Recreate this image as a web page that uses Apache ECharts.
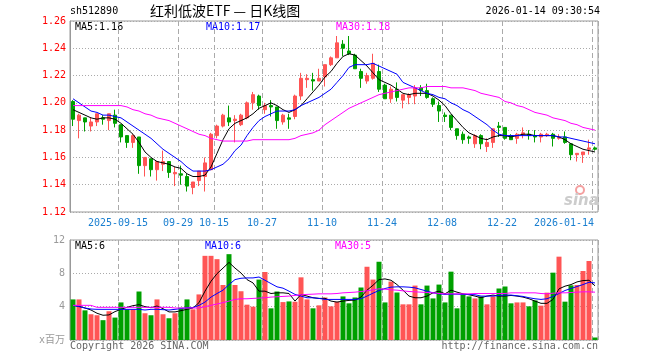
<!DOCTYPE html>
<html><head><meta charset="utf-8">
<script src="https://cdn.jsdelivr.net/npm/echarts@6/dist/echarts.min.js"></script>
<style>html,body{margin:0;padding:0;background:#fff}#c{width:660px;height:360px}</style>
</head><body><div id="c"></div>
<script>
const dates = ['2025-09-03','2025-09-04','2025-09-05','2025-09-08','2025-09-09','2025-09-10','2025-09-11','2025-09-12',
'2025-09-15','2025-09-16','2025-09-17','2025-09-18','2025-09-19','2025-09-22','2025-09-23','2025-09-24','2025-09-25','2025-09-26',
'2025-09-29','2025-09-30','2025-10-09','2025-10-10','2025-10-13','2025-10-14','2025-10-15',
'2025-10-16','2025-10-17','2025-10-20','2025-10-21','2025-10-22','2025-10-23','2025-10-24','2025-10-27',
'2025-10-28','2025-10-29','2025-10-30','2025-10-31','2025-11-03','2025-11-04','2025-11-05','2025-11-06','2025-11-07','2025-11-10',
'2025-11-11','2025-11-12','2025-11-13','2025-11-14','2025-11-17','2025-11-18','2025-11-19','2025-11-20','2025-11-21','2025-11-24',
'2025-11-25','2025-11-26','2025-11-27','2025-11-28','2025-12-01','2025-12-02','2025-12-03','2025-12-04','2025-12-05','2025-12-08',
'2025-12-09','2025-12-10','2025-12-11','2025-12-12','2025-12-15','2025-12-16','2025-12-17','2025-12-18','2025-12-19','2025-12-22',
'2025-12-23','2025-12-24','2025-12-25','2025-12-26','2025-12-29','2025-12-30','2025-12-31',
'2026-01-05','2026-01-06','2026-01-07','2026-01-08','2026-01-09','2026-01-12','2026-01-13','2026-01-14'];

const opens = [1.201,1.187,1.189,1.183,1.186,1.189,1.187,1.191,1.184,1.176,1.171,1.175,1.154,1.159,1.151,1.155,1.157,1.148,1.148,1.146,
1.138,1.143,1.146,1.151,1.176,1.183,1.189,1.187,1.184,1.189,1.200,1.205,1.195,1.198,1.197,1.186,1.189,1.190,1.205,1.217,
1.217,1.216,1.219,1.228,1.233,1.243,1.238,1.235,1.223,1.216,1.218,1.223,1.213,1.203,1.210,1.202,1.204,1.205,1.211,1.209,
1.203,1.198,1.191,1.191,1.181,1.177,1.175,1.170,1.176,1.168,1.171,1.183,1.182,1.176,1.174,1.177,1.177,1.176,1.175,1.176,
1.177,1.174,1.175,1.170,1.162,1.162,1.166,1.167];
const closes = [1.188,1.191,1.186,1.186,1.192,1.188,1.192,1.185,1.175,1.171,1.176,1.154,1.160,1.151,1.157,1.157,1.149,1.149,1.147,1.139,
1.142,1.150,1.156,1.177,1.183,1.191,1.186,1.188,1.191,1.200,1.206,1.198,1.198,1.197,1.187,1.191,1.188,1.205,1.218,1.218,
1.216,1.218,1.228,1.233,1.244,1.240,1.236,1.225,1.218,1.220,1.229,1.210,1.203,1.210,1.204,1.206,1.206,1.211,1.209,1.204,
1.199,1.194,1.190,1.182,1.176,1.173,1.174,1.176,1.170,1.171,1.181,1.182,1.174,1.173,1.177,1.178,1.176,1.175,1.177,1.177,
1.174,1.175,1.171,1.162,1.163,1.164,1.167,1.166];
const lows = [1.183,1.174,1.179,1.179,1.183,1.184,1.180,1.182,1.171,1.167,1.167,1.148,1.146,1.146,1.143,1.150,1.145,1.139,1.140,1.135,
1.133,1.139,1.135,1.151,1.174,1.182,1.183,1.171,1.183,1.188,1.195,1.195,1.192,1.190,1.181,1.184,1.181,1.188,1.202,1.211,
1.209,1.216,1.212,1.227,1.233,1.234,1.235,1.225,1.211,1.214,1.217,1.208,1.203,1.200,1.201,1.196,1.199,1.199,1.205,1.203,
1.197,1.186,1.186,1.180,1.173,1.170,1.170,1.167,1.166,1.164,1.167,1.175,1.173,1.173,1.170,1.174,1.173,1.171,1.171,1.175,
1.168,1.173,1.170,1.158,1.157,1.156,1.162,1.165];
const highs = [1.202,1.192,1.189,1.189,1.192,1.191,1.192,1.195,1.184,1.176,1.177,1.175,1.160,1.159,1.157,1.165,1.157,1.153,1.154,1.148,
1.142,1.150,1.160,1.178,1.184,1.192,1.198,1.191,1.192,1.201,1.208,1.206,1.200,1.202,1.197,1.192,1.192,1.206,1.222,1.221,
1.222,1.225,1.228,1.234,1.249,1.246,1.249,1.236,1.225,1.222,1.236,1.228,1.214,1.212,1.215,1.206,1.207,1.213,1.213,1.214,
1.204,1.201,1.193,1.191,1.181,1.179,1.176,1.177,1.177,1.174,1.181,1.186,1.182,1.177,1.178,1.182,1.180,1.180,1.178,1.178,
1.178,1.177,1.179,1.170,1.163,1.164,1.173,1.168];

const ma5 = [1.195,1.193,1.191,1.189,1.188,1.189,1.189,1.188,1.185,1.181,1.177,1.171,1.164,1.160,1.157,1.156,1.155,1.153,1.152,1.148,
1.146,1.146,1.147,1.153,1.163,1.173,1.181,1.185,1.187,1.189,1.192,1.196,1.198,1.200,1.198,1.195,1.193,1.195,1.198,1.203,
1.208,1.213,1.219,1.223,1.229,1.234,1.236,1.235,1.231,1.227,1.222,1.217,1.215,1.213,1.210,1.207,1.206,1.207,1.207,1.207,
1.205,1.202,1.198,1.192,1.187,1.182,1.178,1.176,1.174,1.173,1.175,1.176,1.176,1.175,1.176,1.177,1.177,1.176,1.176,1.176,
1.176,1.175,1.173,1.170,1.168,1.166,1.165,1.164];
const ma10 = [1.203,1.200,1.197,1.194,1.193,1.191,1.191,1.190,1.189,1.186,1.183,1.180,1.177,1.174,1.170,1.166,1.163,1.160,1.157,1.153,
1.150,1.150,1.150,1.151,1.153,1.155,1.159,1.165,1.169,1.176,1.182,1.187,1.190,1.192,1.194,1.194,1.194,1.195,1.198,1.200,
1.202,1.204,1.207,1.210,1.215,1.220,1.226,1.228,1.228,1.228,1.229,1.227,1.225,1.223,1.221,1.215,1.213,1.211,1.209,1.207,
1.206,1.204,1.203,1.200,1.198,1.195,1.193,1.190,1.187,1.184,1.180,1.177,1.176,1.176,1.176,1.176,1.176,1.176,1.176,1.176,
1.176,1.175,1.175,1.174,1.173,1.172,1.171,1.170];
const ma30 = [1.198,1.198,1.198,1.198,1.198,1.198,1.198,1.198,1.198,1.197,1.195,1.194,1.192,1.191,1.189,1.188,1.187,1.185,1.183,1.181,
1.179,1.177,1.176,1.174,1.173,1.172,1.172,1.172,1.172,1.172,1.173,1.173,1.173,1.173,1.173,1.173,1.173,1.174,1.176,1.177,
1.178,1.180,1.184,1.187,1.190,1.193,1.196,1.198,1.200,1.202,1.204,1.206,1.207,1.208,1.209,1.210,1.211,1.211,1.211,1.212,
1.212,1.212,1.212,1.211,1.211,1.211,1.210,1.209,1.207,1.206,1.205,1.204,1.201,1.200,1.198,1.197,1.195,1.193,1.192,1.191,
1.189,1.188,1.187,1.185,1.184,1.182,1.181,1.180];

const volumes = [4.87,4.87,3.56,3.09,2.97,2.38,3.45,2.69,4.51,3.68,3.68,5.82,3.21,2.97,4.87,3.09,2.61,3.21,3.88,4.87,
3.68,5.47,10.1,10.1,9.7,6.6,10.3,6.6,5.85,4.24,4.0,7.25,8.16,3.80,5.82,4.55,4.63,4.59,7.52,4.87,
3.80,4.16,5.1,4.04,4.59,5.23,4.40,5.1,6.30,8.79,7.25,9.39,4.51,7.01,5.70,4.28,4.28,6.53,4.28,6.53,
4.99,6.65,4.51,8.2,3.80,5.47,5.23,4.99,5.23,4.28,5.23,6.18,6.42,4.40,4.51,4.51,4.04,4.75,4.12,5.68,
8.08,10.0,4.6,6.56,6.6,8.28,9.48,0.3];
const volMa5 = [4.16,4.04,3.84,3.60,3.21,2.97,3.01,3.41,3.68,3.92,4.12,4.24,4.0,3.88,4.08,3.76,3.37,3.37,3.52,3.68,
3.84,4.48,5.86,7.05,7.96,8.63,9.31,8.63,8.04,7.25,6.85,5.86,5.86,5.58,5.66,5.66,5.58,4.67,5.47,5.27,
5.07,4.99,5.0,4.67,4.55,4.67,4.75,4.79,5.15,5.98,6.57,7.25,7.33,7.17,6.65,5.98,5.27,5.07,5.07,5.27,
5.66,5.86,5.54,5.98,5.74,5.54,5.43,5.27,5.07,5.27,5.39,5.27,5.27,5.35,5.27,5.15,4.95,4.67,4.40,4.40,
4.87,6.14,6.46,6.65,6.97,7.13,7.17,6.5];
const volMa10 = [4.16,4.0,3.84,3.72,3.68,3.68,3.68,3.68,3.68,3.68,3.68,3.68,3.60,3.68,3.68,3.64,3.60,3.68,3.76,3.88,
3.88,4.16,4.55,5.15,5.58,5.98,6.65,7.25,7.41,7.45,7.45,7.56,7.17,6.77,6.38,6.22,5.86,5.47,5.27,5.07,
5.07,4.99,4.87,4.87,4.87,4.87,4.87,4.87,4.95,5.27,5.62,5.94,6.18,6.34,6.38,6.38,6.34,6.26,6.06,5.86,
5.66,5.54,5.47,5.5,5.5,5.47,5.47,5.43,5.27,5.27,5.27,5.35,5.39,5.39,5.31,5.23,5.07,4.95,4.87,4.95,
5.23,5.58,5.94,6.18,6.42,6.65,6.93,6.85];
const volMa30 = [4.16,4.16,4.16,4.16,3.92,3.92,3.92,3.92,3.92,3.92,3.92,3.92,3.92,3.92,3.92,3.92,3.92,3.84,3.84,3.84,
3.84,3.84,4.0,4.16,4.32,4.48,4.67,4.87,4.95,4.95,4.99,5.03,5.07,5.15,5.19,5.23,5.27,5.35,5.43,5.47,
5.5,5.54,5.54,5.54,5.58,5.66,5.7,5.74,5.82,5.9,6.02,6.14,6.10,6.02,5.98,5.9,5.82,5.78,5.74,5.7,
5.66,5.58,5.54,5.54,5.54,5.54,5.54,5.58,5.58,5.58,5.58,5.58,5.58,5.66,5.66,5.66,5.66,5.66,5.58,5.54,
5.62,5.66,5.66,5.7,5.74,5.78,5.78,5.74];

const labelDates = ['2025-09-15','2025-09-29','2025-10-15','2025-10-27','2025-11-10','2025-11-24','2025-12-08','2025-12-22','2026-01-14'];
const volGridDates = ['2025-09-15','2025-09-29','2025-10-27','2025-11-10','2025-11-24','2025-12-08','2025-12-22','2026-01-14'];
const priceAxis = {min:1.12, max:1.26, interval:0.02};
const volAxis = {min:0, max:12, interval:4};
const volUnit = 'x百万';
const legendTop = ['MA5:1.16','MA10:1.17','MA30:1.18'];
const legendVol = ['MA5:6','MA10:6','MA30:5'];
const titleCode = 'sh512890';
const titleName = '红利低波ETF — 日K线图';
const stamp = '2026-01-14 09:30:54';

const RED = '#ff5555', GREEN = '#00a000';
const MONO = '"DejaVu Sans Mono", "Liberation Mono", monospace';
const labelSet = new Set(labelDates);
const volSet = new Set(volGridDates);
const lastDate = dates[dates.length-1];
const firstLabel = labelDates[0];

const kData = dates.map((d,i)=>[opens[i], closes[i], lows[i], highs[i]]);

const chart = echarts.init(document.getElementById('c'), null, {renderer:'canvas'});
const splitStyle = {color:'#aaa', width:1, type:[5,3]};
const line = (name, data, color, xi) => ({name, type:'line', data, xAxisIndex:xi, yAxisIndex:xi,
  showSymbol:false, symbol:'none', silent:true, z:5, lineStyle:{color, width:1}, itemStyle:{color}});

chart.setOption({
  animation:false,
  backgroundColor:'#fff',
  grid:[
    {left:70, right:62, top:21, height:191, show:true, borderColor:'#999', borderWidth:1},
    {left:70, right:62, top:240, height:100, show:true, borderColor:'#999', borderWidth:1}
  ],
  xAxis:[
    {type:'category', gridIndex:0, data:dates, boundaryGap:true,
     axisLine:{show:false}, axisTick:{show:false},
     splitLine:{show:true, interval:(i,v)=>labelSet.has(v), lineStyle:splitStyle},
     axisLabel:{interval:(i,v)=>labelSet.has(v), color:'#1a7fd0', fontFamily:MONO, fontSize:10, margin:6,
       padding:[0,6,0,0],
       formatter:(v)=>{ if(v===lastDate) return '{r|'+v+'}'; if(v===firstLabel) return v; return v.slice(5); },
       rich:{r:{color:'#1a7fd0', fontFamily:MONO, fontSize:10, padding:[0,56,0,0]}}}},
    {type:'category', gridIndex:1, data:dates, boundaryGap:true,
     axisLine:{show:false}, axisTick:{show:false}, axisLabel:{show:false},
     splitLine:{show:true, interval:(i,v)=>volSet.has(v), lineStyle:splitStyle}}
  ],
  yAxis:[
    {type:'value', gridIndex:0, min:priceAxis.min, max:priceAxis.max, interval:priceAxis.interval,
     axisLine:{show:true, lineStyle:{color:'#999'}}, axisTick:{show:false},
     axisLabel:{color:'#ff0000', fontFamily:MONO, fontSize:10, margin:4, formatter:(v)=>v.toFixed(2)},
     splitLine:{show:true, lineStyle:{color:'#aaa', type:[1,2]}}},
    {type:'value', gridIndex:1, min:volAxis.min, max:volAxis.max, interval:volAxis.interval,
     axisLine:{show:true, lineStyle:{color:'#999'}}, axisTick:{show:false},
     axisLabel:{color:'#999', fontFamily:MONO+', "Noto Sans CJK SC"', fontSize:10, margin:5,
       formatter:(v)=> v===0 ? volUnit : String(v)},
     splitLine:{show:true, lineStyle:{color:'#aaa', type:[1,2]}}}
  ],
  series:[
    {name:'K', type:'candlestick', data:kData, xAxisIndex:0, yAxisIndex:0, barWidth:4, silent:true,
     itemStyle:{color:RED, color0:GREEN, borderColor:RED, borderColor0:GREEN, borderWidth:1}},
    line('MA5', ma5, '#000000', 0),
    line('MA10', ma10, '#0000ff', 0),
    line('MA30', ma30, '#ff00ff', 0),
    {name:'VOL', type:'bar', data:volumes, xAxisIndex:1, yAxisIndex:1, barWidth:5, silent:true,
     itemStyle:{color:(p)=> closes[p.dataIndex] >= opens[p.dataIndex] ? RED : GREEN}},
    line('VMA5', volMa5, '#000000', 1),
    line('VMA10', volMa10, '#0000ff', 1),
    line('VMA30', volMa30, '#ff00ff', 1)
  ],
  graphic:[
    {type:'text', left:70, top:6, style:{text:titleCode, font:'10px '+MONO, fill:'#000'}},
    {type:'text', left:150, top:4, style:{text:titleName, font:'14px "Noto Sans CJK SC"', fill:'#000'}},
    {type:'text', right:60, top:6, style:{text:stamp, font:'10px '+MONO, fill:'#000'}},
    {type:'text', left:75, top:22, style:{text:legendTop[0], font:'10px '+MONO, fill:'#000'}},
    {type:'text', left:206, top:22, style:{text:legendTop[1], font:'10px '+MONO, fill:'#0000ff'}},
    {type:'text', left:336, top:22, style:{text:legendTop[2], font:'10px '+MONO, fill:'#ff00ff'}},
    {type:'text', left:75, top:241, style:{text:legendVol[0], font:'10px '+MONO, fill:'#000'}},
    {type:'text', left:205, top:241, style:{text:legendVol[1], font:'10px '+MONO, fill:'#0000ff'}},
    {type:'text', left:335, top:241, style:{text:legendVol[2], font:'10px '+MONO, fill:'#ff00ff'}},
    {type:'text', left:70, top:341, style:{text:'Copyright 2026 SINA.COM', font:'10px '+MONO, fill:'#666'}},
    {type:'text', right:62, top:341, style:{text:'http://finance.sina.com.cn', font:'10px '+MONO, fill:'#666'}},
    {type:'circle', shape:{cx:580, cy:190, r:4}, style:{fill:'none', stroke:'#f4a0a0', lineWidth:2}, z:1},
    {type:'text', left:564, top:194, style:{text:'sina', font:'italic bold 15px "DejaVu Sans"', fill:'#cccccc'}, z:1}
  ]
});
</script></body></html>
